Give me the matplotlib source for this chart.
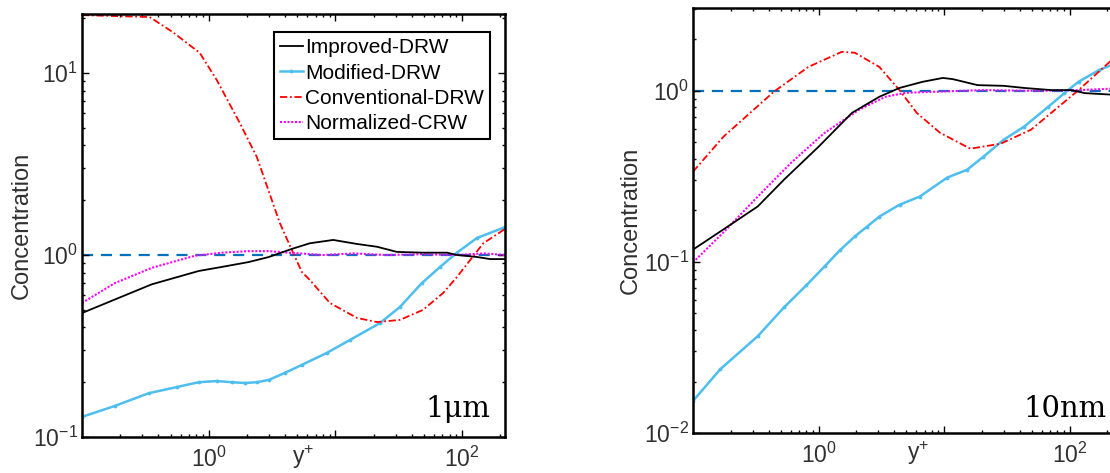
import matplotlib
matplotlib.use('Agg')
import matplotlib.pyplot as plt
from matplotlib.ticker import LogLocator, FixedLocator, FixedFormatter, NullFormatter

plt.rcParams['font.family'] = ['Liberation Sans', 'DejaVu Sans']
plt.rcParams['mathtext.fontset'] = 'custom'
plt.rcParams['mathtext.rm'] = 'Liberation Sans'
plt.rcParams['mathtext.it'] = 'Liberation Sans:italic'
plt.rcParams['mathtext.bf'] = 'Liberation Sans:bold'

# ---------------- data: left panel (1 µm) ----------------
L_improved_x = [0.1, 0.355, 0.834, 1.27, 2.07, 2.98, 4.53, 6.28, 9.6, 14.8, 21.3, 30.6, 49.2, 76, 91, 131, 166, 211, 218]
L_improved_y = [0.48, 0.69, 0.817, 0.86, 0.915, 0.975, 1.08, 1.16, 1.21, 1.15, 1.11, 1.04, 1.03, 1.03, 1.0, 0.975, 0.95, 0.95, 0.95]

L_modified_x = [0.1, 0.181, 0.336, 0.558, 0.834, 1.157, 1.52, 1.93, 2.4, 2.98, 3.99, 5.43, 8.57, 13.0, 22.5, 32.3, 48, 67, 91, 131, 211, 218]
L_modified_y = [0.129, 0.148, 0.174, 0.188, 0.200, 0.203, 0.200, 0.198, 0.200, 0.206, 0.225, 0.249, 0.29, 0.341, 0.423, 0.518, 0.70, 0.86, 1.03, 1.24, 1.41, 1.42]

L_conventional_x = [0.1, 0.342, 0.519, 0.85, 1.157, 1.76, 2.4, 3.64, 4.29, 5.43, 6.28, 9.05, 14.8, 21.3, 32.3, 49, 70.8, 91, 116, 147, 211, 218]
L_conventional_y = [20.8, 20.3, 16.8, 12.9, 9.16, 5.31, 3.45, 1.5, 1.16, 0.807, 0.729, 0.545, 0.451, 0.428, 0.44, 0.499, 0.618, 0.757, 0.94, 1.16, 1.37, 1.39]

L_normalized_x = [0.1, 0.181, 0.355, 0.775, 1.27, 2.07, 2.98, 4.3, 8, 14, 25, 50, 90, 150, 218]
L_normalized_y = [0.545, 0.70, 0.85, 0.99, 1.03, 1.05, 1.05, 1.03, 1.0, 1.02, 1.0, 1.01, 1.0, 1.02, 1.0]

# ---------------- data: right panel (10 nm) ----------------
R_improved_x = [0.1, 0.175, 0.328, 0.532, 1.0, 1.85, 3.05, 4.42, 6.77, 9.8, 11.8, 18.5, 29.9, 43.4, 71.6, 104, 132, 218]
R_improved_y = [0.118, 0.155, 0.211, 0.303, 0.471, 0.744, 0.923, 1.04, 1.13, 1.19, 1.17, 1.08, 1.07, 1.04, 1.01, 1.01, 0.97, 0.95]

R_modified_x = [0.1, 0.165, 0.328, 0.532, 0.80, 1.12, 1.48, 1.95, 2.44, 3.05, 4.42, 6.41, 10.6, 15.3, 20.6, 29.9, 43.4, 67.7, 91, 118, 171, 218]
R_modified_y = [0.0154, 0.0236, 0.0368, 0.0543, 0.0730, 0.0942, 0.117, 0.141, 0.161, 0.184, 0.216, 0.241, 0.311, 0.346, 0.412, 0.518, 0.617, 0.807, 0.97, 1.13, 1.32, 1.42]

R_conventional_x = [0.1, 0.175, 0.442, 0.83, 1.53, 1.95, 3.05, 4.42, 6.06, 9.29, 16.2, 28.3, 49.4, 71.6, 118, 218]
R_conventional_y = [0.337, 0.54, 0.99, 1.38, 1.69, 1.67, 1.38, 1.01, 0.744, 0.569, 0.459, 0.491, 0.593, 0.744, 1.01, 1.52]

R_normalized_x = [0.1, 0.175, 0.328, 0.605, 1.12, 2.1, 3.41, 4.94, 8.15, 20.6, 52, 118, 218]
R_normalized_y = [0.0993, 0.149, 0.241, 0.380, 0.569, 0.775, 0.923, 0.974, 0.987, 1.01, 1.0, 1.01, 1.03]

labels = ['Improved-DRW', 'Modified-DRW', 'Conventional-DRW', 'Normalized-CRW']
reference_level = 1.0
x_limits = (0.1, 218)
L_ylim = (0.1, 21.1)
R_ylim = (0.01, 3.05)
panel_tags = ['1\u03bcm', '10nm']

# ---------------- figure ----------------
W, H = 1110, 473
fig = plt.figure(figsize=(W / 100, H / 100), dpi=100)

def px_axes(x0, y0, x1, y1):
    return fig.add_axes([x0 / W, 1 - y1 / H, (x1 - x0) / W, (y1 - y0) / H])

axL = px_axes(82, 14, 505, 437)
axR = px_axes(693, 8, 1112, 433)

tick_color = '#303030'
c_black = 'black'
c_blue = '#4DBEEE'
c_red = '#FF0000'
c_mag = '#FF00FF'
c_ref = '#0072BD'

def draw(ax, imp, mod, conv, norm, ylim):
    ax.set_xscale('log')
    ax.set_yscale('log')
    ax.axhline(reference_level, color=c_ref, lw=1.6, ls=(0, (5, 3.5)), zorder=1)
    h1, = ax.plot(imp[0], imp[1], color=c_black, lw=1.3, zorder=3)
    h2, = ax.plot(mod[0], mod[1], color=c_blue, lw=1.8, marker='.', ms=3.5, zorder=2)
    h3, = ax.plot(conv[0], conv[1], color=c_red, lw=1.3, ls=(0, (4, 1.5, 1, 1.5)), zorder=2)
    h4, = ax.plot(norm[0], norm[1], color=c_mag, lw=1.5, ls=(0, (1, 0.8)), zorder=2)
    ax.set_xlim(*x_limits)
    ax.set_ylim(*ylim)
    ax.xaxis.set_major_locator(FixedLocator([1, 10, 100]))
    ax.xaxis.set_major_formatter(FixedFormatter(['$10^{0}$', '', '$10^{2}$']))
    ax.xaxis.set_minor_locator(LogLocator(base=10, subs=range(2, 10), numticks=20))
    ax.xaxis.set_minor_formatter(NullFormatter())
    ax.yaxis.set_major_locator(LogLocator(base=10, numticks=10))
    ax.yaxis.set_minor_locator(LogLocator(base=10, subs=range(2, 10), numticks=20))
    ax.yaxis.set_minor_formatter(NullFormatter())
    ax.tick_params(which='both', direction='in', top=True, right=True,
                   labelsize=16.5, colors='black', labelcolor=tick_color, width=1.0)
    ax.tick_params(which='major', length=5)
    ax.tick_params(which='minor', length=2.5)
    ax.tick_params(axis='x', pad=7)
    ax.tick_params(axis='y', pad=3)
    for s in ax.spines.values():
        s.set_linewidth(1.8)
        s.set_color('black')
    ax.set_ylabel('Concentration', fontsize=17, color=tick_color)
    return [h1, h2, h3, h4]

handles = draw(axL, (L_improved_x, L_improved_y), (L_modified_x, L_modified_y),
               (L_conventional_x, L_conventional_y), (L_normalized_x, L_normalized_y), L_ylim)
draw(axR, (R_improved_x, R_improved_y), (R_modified_x, R_modified_y),
     (R_conventional_x, R_conventional_y), (R_normalized_x, R_normalized_y), R_ylim)

# right panel is cut off at the image edge: no visible right border
axR.spines['right'].set_visible(False)
axR.tick_params(which='both', right=False)

axL.yaxis.set_label_coords(-0.116, 0.5)
axR.yaxis.set_label_coords(-0.122, 0.5)

axL.text(0.522, -0.063, 'y$^{+}$', transform=axL.transAxes, ha='center', va='baseline',
         fontsize=16.5, color=tick_color)
axR.text(0.537, -0.064, 'y$^{+}$', transform=axR.transAxes, ha='center', va='baseline',
         fontsize=16.5, color=tick_color)

axL.text(0.965, 0.047, panel_tags[0], transform=axL.transAxes, ha='right', va='baseline',
         fontsize=21, family='DejaVu Serif')
axR.text(0.988, 0.038, panel_tags[1], transform=axR.transAxes, ha='right', va='baseline',
         fontsize=21, family='DejaVu Serif')

leg = axL.legend(handles, labels, loc='upper right', bbox_to_anchor=(0.9645, 0.957),
                 borderaxespad=0, fontsize=15, frameon=True, fancybox=False,
                 edgecolor='black', framealpha=1, labelspacing=0.3, handlelength=1.1,
                 handletextpad=0.1, borderpad=0.3)
leg.get_frame().set_linewidth(1.5)

fig.savefig('out.png', dpi=100)
